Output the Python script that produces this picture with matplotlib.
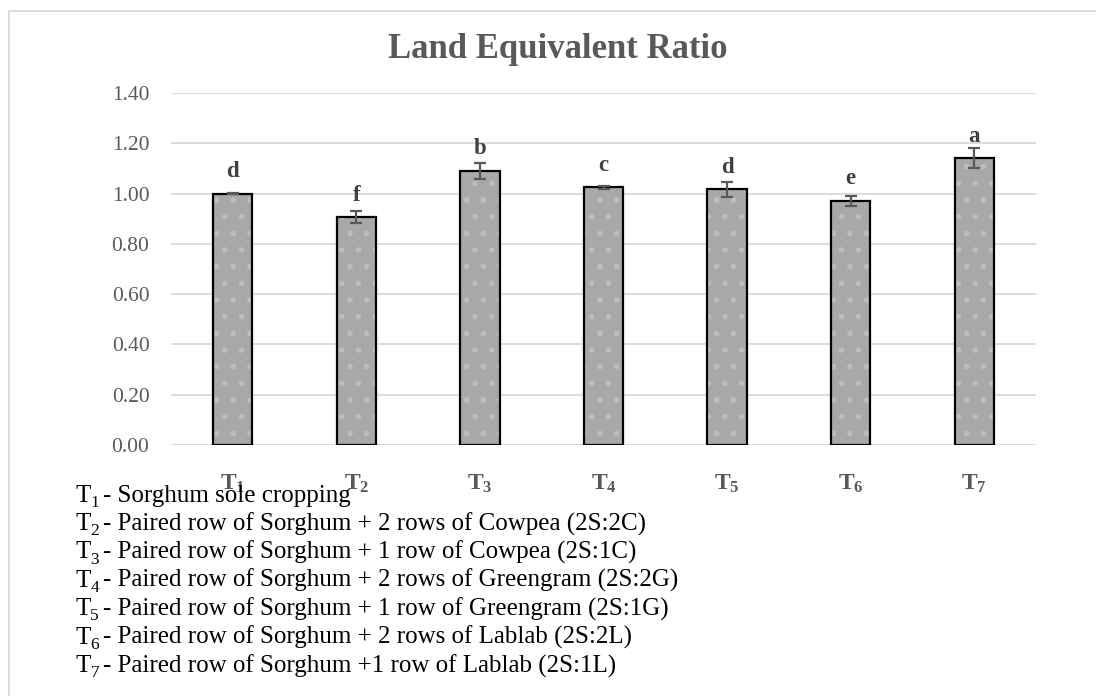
import matplotlib
matplotlib.use("Agg")
import matplotlib.pyplot as plt
from matplotlib.lines import Line2D

plt.rcParams['font.family'] = ['Liberation Serif', 'DejaVu Serif']
plt.rcParams['mathtext.fontset'] = 'custom'
plt.rcParams['mathtext.rm'] = 'Liberation Serif'
plt.rcParams['mathtext.it'] = 'Liberation Serif:italic'
plt.rcParams['mathtext.bf'] = 'Liberation Serif:bold'
plt.rcParams['hatch.linewidth'] = 1.6

categories = ["1", "2", "3", "4", "5", "6", "7"]
values = [1.00, 0.906, 1.090, 1.025, 1.017, 0.972, 1.141]
errors = [0.003, 0.025, 0.031, 0.005, 0.031, 0.020, 0.040]
letters = ["d", "f", "b", "c", "d", "e", "a"]
yticks = [0.0, 0.2, 0.4, 0.6, 0.8, 1.0, 1.2, 1.4]
legend_lines = [
    "Sorghum sole cropping",
    "Paired row of Sorghum + 2 rows of Cowpea (2S:2C)",
    "Paired row of Sorghum + 1 row of Cowpea (2S:1C)",
    "Paired row of Sorghum + 2 rows of Greengram (2S:2G)",
    "Paired row of Sorghum + 1 row of Greengram (2S:1G)",
    "Paired row of Sorghum + 2 rows of Lablab (2S:2L)",
    "Paired row of Sorghum +1 row of Lablab (2S:1L)",
]
title = "Land Equivalent Ratio"

W, H = 1096, 696
fig = plt.figure(figsize=(W / 100, H / 100), dpi=100)
ax = fig.add_axes([171 / W, (H - 445) / H, (1036 - 171) / W, (445 - 93) / H])

x = list(range(len(categories)))
bw = 0.318
ax.bar(x, values, width=bw, color='#a8a8a8', edgecolor='#bdbdbd', hatch='.',
       linewidth=0, zorder=2)
ax.bar(x, values, width=bw, facecolor='none', edgecolor='black',
       linewidth=1.6, zorder=3)
ax.errorbar(x, values, yerr=errors, fmt='none', ecolor='#595959',
            elinewidth=1.6, capsize=4.5, capthick=1.6, zorder=4)

for xi, v, lab in zip(x, values, letters):
    ax.annotate(lab, (xi, v), xytext=(0, 15.8), textcoords='offset points',
                ha='center', va='center', fontsize=16.5, fontweight='bold',
                color='#404040')

ax.set_xlim(-0.5, len(categories) - 0.5)
ax.set_ylim(0, 1.4)
ax.set_yticks(yticks)
ax.set_yticklabels([f"{t:.2f}" for t in yticks])
ax.set_xticks(x)
ax.set_xticklabels([r"$\mathbf{T}_{\mathbf{%s}}$" % c for c in categories])
ax.tick_params(axis='y', length=0, pad=15.5, labelsize=15.5, labelcolor='#595959')
ax.tick_params(axis='x', length=0, pad=20, labelsize=17, labelcolor='#595959')
for s in ax.spines.values():
    s.set_visible(False)
ax.grid(axis='y', color='#d9d9d9', linewidth=1.3, zorder=0)
ax.set_axisbelow(True)

fig.text(558 / W, 1 - 50 / H, title, ha='center', va='center', fontsize=25,
         fontweight='bold', color='#595959')

renderer = fig.canvas.get_renderer()
for i, line in enumerate(legend_lines):
    yb = 501.7 + 28.4 * i
    t = fig.text(76 / W, 1 - yb / H, "T", ha='left', va='baseline',
                 fontsize=18, color='black')
    ext = t.get_window_extent(renderer)
    sx = ext.x1 - 1
    s = fig.text(sx / W, 1 - (yb + 5) / H, str(i + 1), ha='left', va='baseline',
                 fontsize=12.5, color='black')
    ext2 = s.get_window_extent(renderer)
    fig.text((ext2.x1 + 4) / W, 1 - yb / H, "- " + line, ha='left',
             va='baseline', fontsize=18, color='black')

fig.add_artist(Line2D([9 / W, 9 / W], [0, 1 - 10.5 / H], transform=fig.transFigure,
                      color='#d9d9d9', linewidth=1.3))
fig.add_artist(Line2D([9 / W, 1], [1 - 10.5 / H, 1 - 10.5 / H], transform=fig.transFigure,
                      color='#d9d9d9', linewidth=1.3))

fig.savefig("out.png", dpi=100)
